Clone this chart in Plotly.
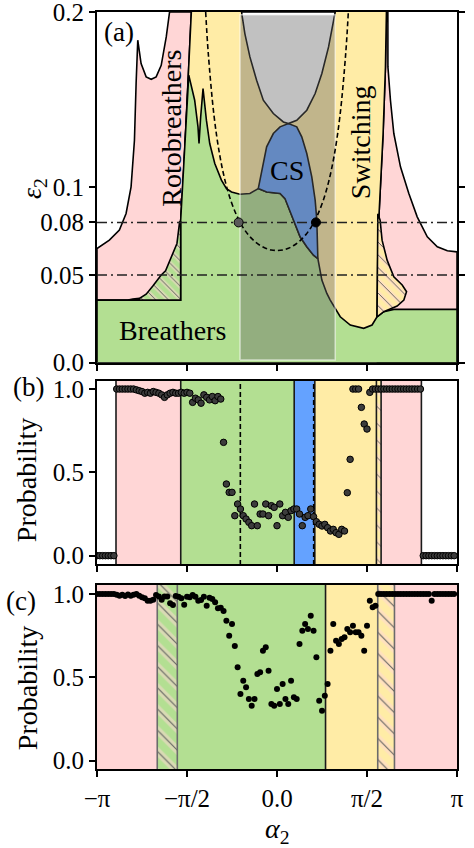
import numpy as np
import plotly.graph_objects as go

PI = np.pi

# ---------------- colours ----------------
PINK = "#FFD6D6"
YELLOW = "#FFECA6"
GREEN = "#B3DF92"
BLUE = "#64A2FF"
BAND = "rgba(100,100,100,0.40)"

# ---------------- panel (a): region boundaries (alpha_2, epsilon_2) ----------------
roto_left_outer_a = [-3.142, -2.926, -2.751, -2.634, -2.547, -2.488, -2.459, -2.430, -2.372,
                     -2.284, -2.196, -2.109, -2.021, -1.933, -1.875]
roto_left_outer_e = [0.0651, 0.0699, 0.0756, 0.0851, 0.1003, 0.1269, 0.1592, 0.1839, 0.1706,
                     0.1630, 0.1616, 0.1630, 0.1696, 0.1858, 0.2]
roto_left_inner_a = [-1.495, -1.513, -1.536, -1.565, -1.595, -1.624, -1.653, -1.682]
roto_left_inner_e = [0.2, 0.1877, 0.1687, 0.1497, 0.1307, 0.1117, 0.0927, 0.0807]
breather_left_level = 0.0357

switch_right_a = [1.910, 1.893, 1.852, 1.805, 1.764, 1.746]
switch_right_e = [0.2, 0.1687, 0.1307, 0.1022, 0.0737, 0.0262]
roto_right_outer_a = [1.935, 1.936, 1.980, 2.039, 2.155, 2.301, 2.447, 2.623, 2.798, 2.973, 3.142]
roto_right_outer_e = [0.2, 0.1687, 0.1497, 0.1307, 0.1117, 0.0965, 0.0832, 0.0718, 0.0661, 0.0638, 0.0632]

green_top_a = [3.142, 2.039, 1.863, 1.746, 1.659, 1.513, 1.279, 1.104, 0.929, 0.870, 0.783, 0.724,
               0.713, 0.637, 0.520, 0.403, 0.315, 0.228, 0.140, 0.053, -0.181, -0.327, -0.473,
               -0.648, -0.794, -0.882, -0.970, -1.086, -1.174, -1.232, -1.291, -1.332, -1.361,
               -1.379, -1.437, -1.540]
green_top_e = [0.0304, 0.0304, 0.0291, 0.0262, 0.0215, 0.0196, 0.0215, 0.0262, 0.0357, 0.0395,
               0.0471, 0.0585, 0.0594, 0.0613, 0.0661, 0.0718, 0.0794, 0.0870, 0.0936, 0.0965,
               0.0974, 0.0993, 0.0965, 0.0961, 0.0974, 0.0993, 0.1041, 0.1136, 0.1250, 0.1383,
               0.1563, 0.1402, 0.1250, 0.1345, 0.1497, 0.1640]

cs_top_a = [-0.327, -0.298, -0.239, -0.181, -0.064, 0.053, 0.199, 0.345, 0.432, 0.520, 0.607,
            0.666, 0.695, 0.707, 0.713]
cs_top_e = [0.0993, 0.1041, 0.1136, 0.1231, 0.1307, 0.1345, 0.1364, 0.1345, 0.1288, 0.1193,
            0.1060, 0.0927, 0.0813, 0.0699, 0.0594]

unstable_a = [-0.619, -0.561, -0.473, -0.356, -0.239, -0.064, 0.111, 0.199, 0.345, 0.520, 0.666,
              0.783, 0.900, 0.987, 1.016]
unstable_e = [0.2, 0.1877, 0.1744, 0.1611, 0.1497, 0.1421, 0.1373, 0.1364, 0.1383, 0.1440, 0.1535,
              0.1649, 0.1801, 0.1953, 0.2]

hatch_left_a = [-2.600, -2.518, -2.401, -2.284, -2.167, -2.021, -1.945, -1.875, -1.817, -1.746,
                -1.700, -1.682, -1.682]
hatch_left_e = [0.0357, 0.0363, 0.0367, 0.0391, 0.0437, 0.0500, 0.0524, 0.0576, 0.0623, 0.0680,
                0.0803, 0.0807, 0.0357]
hatch_right_a = [1.760, 1.800, 1.834, 1.922, 2.039, 2.185, 2.261, 2.214, 2.097, 1.980, 1.863,
                 1.746, 1.764]
hatch_right_e = [0.0850, 0.0813, 0.0699, 0.0585, 0.0490, 0.0443, 0.0405, 0.0357, 0.0323, 0.0306,
                 0.0291, 0.0262, 0.0737]

band_lo, band_hi = -0.645, 1.016

crit_a = [-1.245, -1.2, -1.1, -1.0, -0.9, -0.8, -0.7, -0.6, -0.5, -0.4, -0.3, -0.2, -0.1, 0.0,
          0.1, 0.2, 0.3, 0.4, 0.5, 0.6, 0.7, 0.8, 0.9, 1.0, 1.1, 1.2, 1.245]
crit_e = [0.2, 0.1766, 0.1411, 0.1185, 0.1030, 0.0919, 0.0837, 0.0775, 0.0729, 0.0695, 0.0670,
          0.0653, 0.0643, 0.0640, 0.0643, 0.0653, 0.0670, 0.0695, 0.0729, 0.0775, 0.0837, 0.0919,
          0.1030, 0.1185, 0.1411, 0.1766, 0.2]
ref_levels = [0.08, 0.05]
cross_a = [-0.67, 0.68]
cross_e = [0.08, 0.08]

# ---------------- panels (b) and (c): probability samples ----------------
alpha_grid = np.linspace(-PI, PI, 128, endpoint=False)

prob_b = ([0.0] * 7 + [1.0] * 7 +
          [0.995, 0.99, 0.985, 0.975, 0.98, 0.975, 0.985, 0.98, 0.975, 0.965, 0.95, 0.965, 0.975,
           0.98, 0.975, 0.975, 0.98, 0.975, 0.98, 0.975] +
          [0.92, 0.945, 0.935, 0.915, 0.965, 0.95, 0.935, 0.955, 0.93, 0.955, 0.94] +
          [0.68, 0.43, 0.38, 0.38, 0.24, 0.31, 0.28, 0.24, 0.22, 0.20, 0.18, 0.31, 0.18, 0.25, 0.25,
           0.31, 0.24, 0.30, 0.29, 0.18, 0.31, 0.24, 0.26, 0.23, 0.27, 0.28, 0.28, 0.25, 0.18, 0.23,
           0.24, 0.28] +
          [0.234, 0.204, 0.188, 0.178, 0.188, 0.168, 0.148, 0.158, 0.138, 0.128, 0.158, 0.148] +
          [0.378, 0.578, 1.0, 1.0, 1.0, 0.89, 0.79, 0.76, 0.98] +
          [1.0] * 18 + [0.0] * 12)

prob_c = ([1.0] * 7 +
          [0.995, 0.99, 0.995, 0.988, 0.997, 0.99, 0.995, 1.0, 0.99, 0.98, 0.975, 0.96, 0.96, 0.965,
           0.994, 0.985, 0.965, 0.985, 0.985, 0.945, 0.934, 0.988, 0.984, 0.975, 0.935, 0.984, 0.98,
           0.994, 0.984, 0.96] +
          [0.964, 0.984, 0.93, 0.978, 0.97, 0.95, 0.914, 0.918, 0.898, 0.84, 0.75, 0.82, 0.688, 0.56,
           0.40, 0.48, 0.44, 0.37, 0.33, 0.37, 0.52, 0.53, 0.66, 0.68, 0.54, 0.34, 0.33, 0.43, 0.34,
           0.46, 0.37, 0.34, 0.48, 0.38, 0.37, 0.70, 0.78, 0.82, 0.79, 0.87, 0.78, 0.62, 0.36, 0.30,
           0.39, 0.46, 0.66, 0.82, 0.72, 0.70, 0.73, 0.74, 0.79, 0.77, 0.81, 0.77, 0.77, 0.75, 0.66,
           0.81, 0.96, 0.92, 0.93] +
          [1.0] * 19 + [0.96] + [1.0] * 8)

# bands: (lo, hi, kind)
bands_b = [(-2.81, -1.68, "pink"), (-1.68, 0.30, "green"), (0.30, 0.66, "blue"),
           (0.66, 1.735, "yellow"), (1.735, 1.817, "hatch_yp"), (1.817, 2.52, "pink")]
lines_b = [-2.81, -1.68, 0.30, 0.66, 1.735, 1.817, 2.52]
dashed_b = [-0.64, 0.64]

bands_c = [(-PI, -2.09, "pink"), (-2.09, -1.74, "hatch_gp"), (-1.74, 0.847, "green"),
           (0.847, 1.758, "yellow"), (1.758, 2.05, "hatch_yp"), (2.05, PI, "pink")]
lines_c_gray = [-2.09, -1.74, 1.758, 2.05]
lines_c_black = [0.847]

# ---------------- build figure ----------------
fig = go.Figure()
LW = 1.6


def poly(x, y, fillcolor, ax, line=True, pattern=None, lcolor="black"):
    kw = dict(x=list(x) + [x[0]], y=list(y) + [y[0]], fill="toself", hoverinfo="skip",
              xaxis=ax[0], yaxis=ax[1], showlegend=False)
    if line:
        kw.update(mode="lines", line=dict(color=lcolor, width=LW))
    else:
        kw.update(mode="none")
    kw["fillcolor"] = fillcolor
    if pattern is not None:
        kw["fillpattern"] = pattern
    fig.add_trace(go.Scatter(**kw))


A = ("x", "y")
poly(roto_left_outer_a + roto_left_inner_a + [-1.682, -PI],
     roto_left_outer_e + roto_left_inner_e + [breather_left_level, breather_left_level], PINK, A)
poly(roto_right_outer_a + [PI, 1.746] + switch_right_a[::-1],
     roto_right_outer_e + [0, 0] + switch_right_e[::-1], PINK, A)
poly(roto_left_inner_a + [-1.682, 1.746] + switch_right_a[::-1],
     roto_left_inner_e + [0, 0] + switch_right_e[::-1], YELLOW, A, line=False)
fig.add_trace(go.Scatter(x=roto_left_inner_a, y=roto_left_inner_e, mode="lines",
                         line=dict(color="black", width=LW), xaxis="x", yaxis="y", hoverinfo="skip"))
fig.add_trace(go.Scatter(x=switch_right_a, y=switch_right_e, mode="lines",
                         line=dict(color="black", width=LW), xaxis="x", yaxis="y", hoverinfo="skip"))
edge_low = [(a, e) for a, e in zip(roto_left_inner_a, roto_left_inner_e) if e < 0.164]
poly(green_top_a + [p[0] for p in edge_low] + [-1.682, -PI, -PI, PI],
     green_top_e + [p[1] for p in edge_low] + [breather_left_level, breather_left_level, 0, 0],
     GREEN, A)
poly(hatch_left_a, hatch_left_e, GREEN, A, line=False,
     pattern=dict(shape="\\", fgcolor=PINK, bgcolor=GREEN, size=9, solidity=0.5))
poly(hatch_left_a, hatch_left_e, "rgba(0,0,0,0)", A, line=True,
     pattern=dict(shape="\\", fgcolor="#555555", size=9, solidity=0.1, fillmode="replace"))
poly(hatch_right_a, hatch_right_e, YELLOW, A, line=False,
     pattern=dict(shape="\\", fgcolor=PINK, bgcolor=YELLOW, size=9, solidity=0.5))
poly(hatch_right_a, hatch_right_e, "rgba(0,0,0,0)", A, line=True,
     pattern=dict(shape="\\", fgcolor="#555555", size=9, solidity=0.1, fillmode="replace"))
i0 = green_top_a.index(0.713)
i1 = green_top_a.index(-0.327)
poly(cs_top_a + green_top_a[i0 + 1:i1], cs_top_e + green_top_e[i0 + 1:i1], BLUE, A)
poly(unstable_a, unstable_e, "white", A)
fig.add_trace(go.Scatter(x=[band_lo, band_hi, band_hi, band_lo, band_lo],
                         y=[0.0015, 0.0015, 0.1985, 0.1985, 0.0015], fill="toself", mode="lines",
                         fillcolor=BAND, line=dict(color="rgba(255,255,255,0.55)", width=1.5),
                         xaxis="x", yaxis="y", hoverinfo="skip"))
for lev in ref_levels:
    fig.add_trace(go.Scatter(x=[-PI, PI], y=[lev, lev], mode="lines",
                             line=dict(color="#222222", width=1.4, dash="10px,4px,2px,4px"),
                             xaxis="x", yaxis="y", hoverinfo="skip"))
fig.add_trace(go.Scatter(x=crit_a, y=crit_e, mode="lines", line_shape="spline",
                         line=dict(color="black", width=1.6, dash="5px,3px"),
                         xaxis="x", yaxis="y", hoverinfo="skip"))
fig.add_trace(go.Scatter(x=cross_a, y=cross_e, mode="markers",
                         marker=dict(size=9, color=["#5a5a5a", "black"], line=dict(color="black", width=1)),
                         xaxis="x", yaxis="y", hoverinfo="skip"))

KIND = {"pink": PINK, "green": GREEN, "blue": BLUE, "yellow": YELLOW}


def bands(blist, ax, psize):
    for lo, hi, kind in blist:
        xs = [lo, hi, hi, lo]
        ys = [-0.2, -0.2, 1.2, 1.2]
        if kind in KIND:
            poly(xs, ys, KIND[kind], ax, line=False)
        else:
            bg = GREEN if kind == "hatch_gp" else YELLOW
            poly(xs, ys, bg, ax, line=False,
                 pattern=dict(shape="\\", fgcolor=PINK, bgcolor=bg, size=psize, solidity=0.5))
            poly(xs, ys, "rgba(0,0,0,0)", ax, line=False,
                 pattern=dict(shape="\\", fgcolor="#5e5e5e", size=psize, solidity=0.07, fillmode="replace"))


def vline(v, ax, color, dash=None, width=1.6):
    fig.add_trace(go.Scatter(x=[v, v], y=[-0.2, 1.2], mode="lines",
                             line=dict(color=color, width=width, dash=dash),
                             xaxis=ax[0], yaxis=ax[1], hoverinfo="skip"))


B = ("x2", "y2")
bands(bands_b, B, 12)
for v in lines_b:
    vline(v, B, "#1a1a1a")
for v in dashed_b:
    vline(v, B, "black", dash="5px,3px")
fig.add_trace(go.Scatter(x=alpha_grid, y=prob_b, mode="markers",
                         marker=dict(size=6.5, color="#3c3c3c", line=dict(color="black", width=1)),
                         xaxis="x2", yaxis="y2", hoverinfo="skip"))

C = ("x3", "y3")
bands(bands_c, C, 15)
for v in lines_c_gray:
    vline(v, C, "#6b6b6b")
for v in lines_c_black:
    vline(v, C, "#1a1a1a")
fig.add_trace(go.Scatter(x=alpha_grid, y=prob_c, mode="markers",
                         marker=dict(size=6, color="black"),
                         xaxis="x3", yaxis="y3", hoverinfo="skip"))

# ---------------- layout ----------------
FONT = "Liberation Serif"
TF = dict(family=FONT, size=25, color="black")
xt_vals = [-PI, -PI / 2, 0, PI / 2, PI]
xt_text = ["\u2212\u03c0", "\u2212\u03c0/2", "0.0", "\u03c0/2", "\u03c0"]

common_x = dict(range=[-PI, PI], tickvals=xt_vals, ticktext=xt_text, ticks="outside",
                ticklen=6, tickwidth=1.5, tickcolor="black", showline=True, linecolor="black",
                linewidth=2, mirror=True, showgrid=False, zeroline=False, tickfont=TF,
                automargin=False, ticklabeloverflow="allow")
common_y = dict(ticks="outside", ticklen=6, tickwidth=1.5, tickcolor="black", showline=True,
                linecolor="black", linewidth=2, showgrid=False, zeroline=False, tickfont=TF,
                automargin=False, ticklabeloverflow="allow")

fig.update_layout(
    width=474, height=848, margin=dict(l=97, r=17, t=12, b=79, autoexpand=False),
    paper_bgcolor="white", plot_bgcolor="white", showlegend=False,
    font=dict(family=FONT, size=25, color="black"),
    xaxis=dict(common_x, domain=[0, 1], anchor="y", showticklabels=False),
    xaxis2=dict(common_x, domain=[0, 1], anchor="y2", showticklabels=False),
    xaxis3=dict(common_x, domain=[0, 1], anchor="y3", showticklabels=True),
    yaxis=dict(common_y, domain=[0.5367, 1.0], anchor="x", range=[0, 0.2], mirror="ticks",
               tickvals=[0.0, 0.05, 0.08, 0.1, 0.2], ticktext=["0.0", "0.05", "0.08", "0.1", "0.2"]),
    yaxis2=dict(common_y, domain=[0.2708, 0.5125], anchor="x2", range=[-0.05, 1.048], mirror=True,
                tickvals=[0, 0.5, 1.0], ticktext=["0.0", "0.5", "1.0"]),
    yaxis3=dict(common_y, domain=[0.0, 0.2431], anchor="x3", range=[-0.05, 1.054], mirror=True,
                tickvals=[0, 0.5, 1.0], ticktext=["0.0", "0.5", "1.0"]),
)

LF = dict(family=FONT, size=28, color="black")
LS = dict(family=FONT, size=27, color="black")
C0 = dict(showarrow=False, xanchor="center", yanchor="middle")
ann = [
    dict(C0, text="(a)", x=-2.76, y=0.1885, xref="x", yref="y", font=LS),
    dict(C0, text="Rotobreathers", x=-1.84, y=0.1338, xref="x", yref="y", textangle=-90, font=LF),
    dict(C0, text="Switching", x=1.455, y=0.126, xref="x", yref="y", textangle=-90, font=LF),
    dict(C0, text="CS", x=0.181, y=0.1098, xref="x", yref="y", font=LF),
    dict(C0, text="Breathers", x=-1.817, y=0.0181, xref="x", yref="y", font=LF),
    dict(C0, text="<i>\u03b5</i><sub>2</sub>", x=-0.178, y=0.7675, xref="paper", yref="paper",
         textangle=-90, font=LF),
    dict(C0, text="(b)", x=-0.19, y=0.5045, xref="paper", yref="paper", font=LS),
    dict(C0, text="Probability", x=-0.194, y=0.3818, xref="paper", yref="paper",
         textangle=-90, font=LF),
    dict(C0, text="(c)", x=-0.212, y=0.222, xref="paper", yref="paper", font=LS),
    dict(C0, text="Probability", x=-0.194, y=0.107, xref="paper", yref="paper",
         textangle=-90, font=LF),
    dict(C0, text="<i>\u03b1</i><sub>2</sub>", x=0.5, y=-0.0806, xref="paper", yref="paper",
         font=LF),
]
fig.update_layout(annotations=ann)

# remove the default page margin so the figure fills the window exactly
fig.write_html("out.html", config={"displayModeBar": False},
               post_script="document.body.style.margin='0px';")
